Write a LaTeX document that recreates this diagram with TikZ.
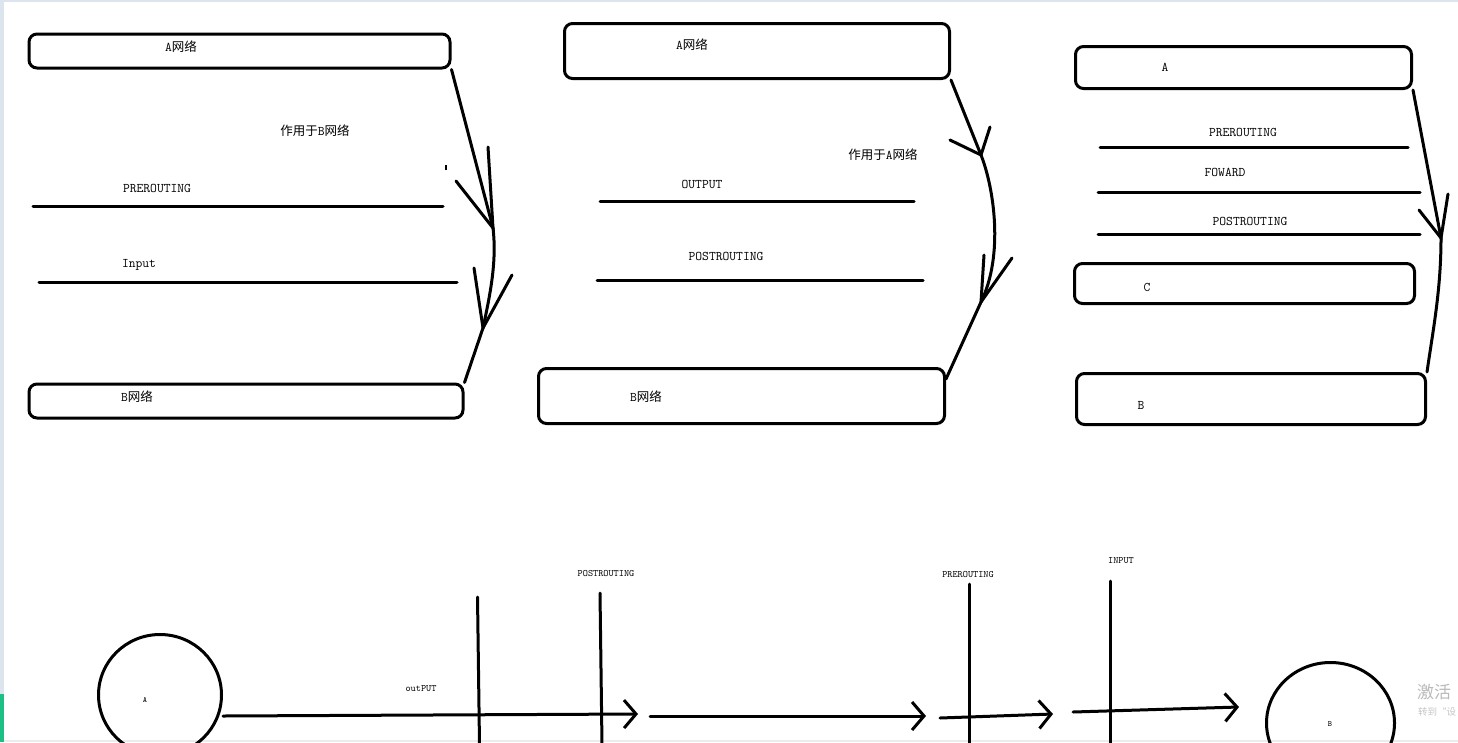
\documentclass[tikz,border=0pt]{standalone}
\usepackage{fontspec}
\newfontfamily\cjk{Noto Sans CJK SC}
\usetikzlibrary{arrows.meta,shapes.geometric}
\definecolor{winedge}{HTML}{DCE4EE}
\definecolor{wingreen}{HTML}{1DBF85}
\tikzset{
  net/.style={draw, line width=3pt, rounded corners=8pt, inner sep=0pt},
  hook/.style={line width=3pt, line cap=round},
  tag/.style={font=\ttfamily\fontsize{13.2}{15}\selectfont, inner sep=0pt},
  smalltag/.style={font=\ttfamily\fontsize{9.8}{11}\selectfont, inner sep=0pt},
  flow/.style={line width=3pt, line cap=round, -{Straight Barb[length=12pt,width=28pt]}},
  host/.style={ellipse, draw, line width=3pt, inner sep=0pt},
}
\begin{document}
\begin{tikzpicture}[x=1pt, y=-1pt]
  \useasboundingbox (0,0) rectangle (1458,742);
  \clip (0,0) rectangle (1458,742);
  % window edges
  \fill[winedge] (0,0) rectangle (4,742);
  \fill[winedge] (0,0) rectangle (1458,2);
  \fill[gray!15] (0,740) rectangle (1458,742);
  \fill[wingreen] (0,694) rectangle (4,742);

  % panel 1: input
  \node[net, minimum width=421pt, minimum height=34pt] (a1) at (239.5,51) {};
  \node[tag] (la1) at (181,47) {A{\cjk\fontsize{12.5}{15}\selectfont 网络}};
  \node[net, minimum width=434pt, minimum height=34pt] (b1) at (246,401) {};
  \node[tag] (lb1) at (137,397) {B{\cjk\fontsize{12.5}{15}\selectfont 网络}};
  \draw[hook] (33,206) -- (443,206);
  \node[tag] (pre1) at (157,188) {PREROUTING};
  \draw[hook] (39,282) -- (457,282);
  \node[tag] (in1) at (139,265) {Input};
  \node[tag] (for1) at (315,131) {{\cjk\fontsize{12.5}{15}\selectfont 作用于}B{\cjk\fontsize{12.5}{15}\selectfont 网络}};
  \draw[line width=1.2pt] (446,165) -- (446,170);
  \coordinate (h11) at (493,228);
  \coordinate (h12) at (483,328);
  \draw[hook] (a1.south east) -- (h11) .. controls (497,262) and (490,295) .. (h12) -- (b1.north east);
  \draw[hook] (h11) ++(-5,-81) -- (h11) -- ++(-37,-47);
  \draw[hook] (h12) ++(-9,-60) -- (h12) -- ++(29,-53);

  % panel 2: output
  \node[net, minimum width=385pt, minimum height=55pt] (a2) at (757,51) {};
  \node[tag] (la2) at (692,45) {A{\cjk\fontsize{12.5}{15}\selectfont 网络}};
  \node[net, minimum width=406pt, minimum height=55pt] (b2) at (741.5,396) {};
  \node[tag] (lb2) at (646,397) {B{\cjk\fontsize{12.5}{15}\selectfont 网络}};
  \draw[hook] (600,201) -- (914,201);
  \node[tag] (out2) at (702,184) {OUTPUT};
  \draw[hook] (597,280) -- (923,280);
  \node[tag] (post2) at (726,256) {POSTROUTING};
  \node[tag] (for2) at (883,155) {{\cjk\fontsize{12.5}{15}\selectfont 作用于}A{\cjk\fontsize{12.5}{15}\selectfont 网络}};
  \coordinate (h21) at (981,155);
  \coordinate (h22) at (981,302);
  \draw[hook] (a2.south east) -- (h21) .. controls (994,188) and (1004,255) .. (h22) -- ([yshift=-12pt]b2.north east);
  \draw[hook] (h21) ++(-31,-15) -- (h21) -- ++(9,-28);
  \draw[hook] (h22) ++(3,-47) -- (h22) -- ++(31,-44);

  % panel 3: forward
  \node[net, minimum width=336pt, minimum height=42pt] (a3) at (1243.5,67.5) {};
  \node[tag] (la3) at (1165,67) {A};
  \draw[hook] (1100,147) -- (1408,147);
  \node[tag] (pre3) at (1243,132) {PREROUTING};
  \draw[hook] (1098,192) -- (1420,192);
  \node[tag] (fw3) at (1225,172) {FOWARD};
  \draw[hook] (1098,234) -- (1420,234);
  \node[tag] (post3) at (1250,221) {POSTROUTING};
  \node[net, minimum width=340pt, minimum height=40pt] (c3) at (1244.5,283.5) {};
  \node[tag] (lc3) at (1147,287) {C};
  \node[net, minimum width=349pt, minimum height=51pt] (b3) at (1251,399) {};
  \node[tag] (lb3) at (1141,405) {B};
  \coordinate (h31) at (1441,238);
  \draw[hook] (a3.south east) -- (h31) .. controls (1441,290) and (1433,330) .. (b3.north east);
  \draw[hook] (h31) ++(-22,-28) -- (h31) -- ++(7,-44);

  % bottom row: A to B
  \node[host, minimum width=123pt, minimum height=121pt] (cA) at (160,695) {};
  \node[font=\ttfamily\fontsize{8}{9}\selectfont, inner sep=0pt] (labA) at (145,700) {A};
  \node[host, minimum width=128pt, minimum height=121pt] (cB) at (1330.5,723) {};
  \node[font=\ttfamily\fontsize{8}{9}\selectfont, inner sep=0pt] (labB) at (1330,724) {B};
  \draw[hook] (477.5,597) -- (479.5,745);
  \draw[hook] (600,593) -- (602,745);
  \draw[hook] (969,584) -- (969,745);
  \draw[hook] (1110,581) -- (1110,745);
  \node[smalltag] (outP) at (421,689) {outPUT};
  \node[smalltag] (postP) at (606,573) {POSTROUTING};
  \node[smalltag] (preP) at (968,574) {PREROUTING};
  \node[smalltag] (inP) at (1121,561) {INPUT};
  \coordinate (o1) at (638,714);
  \coordinate (o2s) at (650,716);
  \coordinate (o2) at (926,716);
  \coordinate (o3s) at (940,718);
  \coordinate (o3) at (1053,714);
  \coordinate (o4s) at (1073,712);
  \draw[flow] ([yshift=-21pt]cA.east) -- (o1);
  \draw[flow] (o2s) -- (o2);
  \draw[flow] (o3s) -- (o3);
  \draw[flow] (o4s) -- ([xshift=-26pt,yshift=16pt]cB.west);

  % watermark
  \node[font=\cjk\fontsize{17}{17}\selectfont, text=gray!55, anchor=west, inner sep=0pt] (wm1) at (1417,692) {激活};
  \node[font=\cjk\fontsize{9.5}{10}\selectfont, text=gray!45, anchor=west, inner sep=0pt] (wm2) at (1418,712) {转到“设};
\end{tikzpicture}
\end{document}
